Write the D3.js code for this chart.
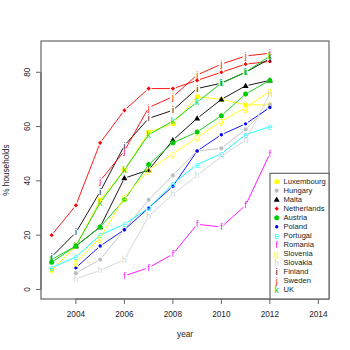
<!DOCTYPE html>
<html>
<head>
<meta charset="utf-8">
<script src="https://cdn.jsdelivr.net/npm/d3@7"></script>
<style>
  body { margin: 0; background: #fff; }
  svg { font-family: "Liberation Sans", Arial, sans-serif; }
</style>
</head>
<body>
<div id="chart"></div>
<script>
var years = [2003, 2004, 2005, 2006, 2007, 2008, 2009, 2010, 2011, 2012];

var luxembourg  = [7, 16, 33, 44, 58, 61, 71, 70, 68, 68];
var hungary     = [null, 6, 11, 22, 33, 42, 51, 52, 59, 68];
var malta       = [null, 16, 23, 41, 44, 55, 63, 70, 75, 77];
var netherlands = [20, 31, 54, 66, 74, 74, 77, 80, 83, 84];
var austria     = [10, 16, 23, 33, 46, 54, 58, 64, 72, 77];
var poland      = [null, 8, 16, 22, 30, 38, 51, 57, 61, 67];
var portugal    = [8, 12, 20, 24, 30, 39, 46, 50, 57, 60];
var romania     = [null, null, null, 5, 8, 13, 24, 23, 31, 50];
var slovenia    = [null, 10, 19, 34, 44, 50, 56, 62, 67, 73];
var slovakia    = [null, 4, 7, 11, 27, 35, 42, 49, 55, 72];
var finland     = [12, 21, 36, 53, 63, 66, 74, 76, 80, 85];
var sweden      = [null, null, 40, 51, 67, 71, 79, 83, 86, 87];
var uk          = [11, 16, 32, 44, 57, 62, 69, 76, 80, 86];

var xTicks = [2004, 2006, 2008, 2010, 2012, 2014];
var yTicks = [0, 20, 40, 60, 80];

// name, values, colour, symbol (shape name or a letter)
var series = [
  ["Luxembourg", luxembourg, "#ffff00", "square"],
  ["Hungary", hungary, "#bebebe", "dot"],
  ["Malta", malta, "#000000", "triangle"],
  ["Netherlands", netherlands, "#ff0000", "diamond"],
  ["Austria", austria, "#00cd00", "bigdot"],
  ["Poland", poland, "#0000ff", "smalldot"],
  ["Portugal", portugal, "#00ffff", "e"],
  ["Romania", romania, "#ff00ff", "f"],
  ["Slovenia", slovenia, "#ffff00", "g"],
  ["Slovakia", slovakia, "#d3d3d3", "h"],
  ["Finland", finland, "#000000", "i"],
  ["Sweden", sweden, "#ff0000", "j"],
  ["UK", uk, "#00cd00", "k"]
];

var width = 350, height = 350;
var plot = {left: 41, right: 329, top: 41, bottom: 299};

var svg = d3.select("#chart").append("svg")
  .attr("width", width)
  .attr("height", height);

// R style axis range: data range padded by 4%
var x = d3.scaleLinear()
  .domain([2003 - 0.44, 2014 + 0.44])
  .range([plot.left, plot.right]);

var y = d3.scaleLinear()
  .domain([-3.52, 91.52])
  .range([plot.bottom, plot.top]);

function drawSymbol(g, sym, cx, cy, col) {
  if (sym == "square") {
    g.append("rect").attr("x", cx - 2.2).attr("y", cy - 2.2)
      .attr("width", 4.4).attr("height", 4.4).attr("fill", col);
  } else if (sym == "dot") {
    g.append("circle").attr("cx", cx).attr("cy", cy).attr("r", 2.1).attr("fill", col);
  } else if (sym == "bigdot") {
    g.append("circle").attr("cx", cx).attr("cy", cy).attr("r", 2.5).attr("fill", col);
  } else if (sym == "smalldot") {
    g.append("circle").attr("cx", cx).attr("cy", cy).attr("r", 1.7).attr("fill", col);
  } else if (sym == "triangle") {
    g.append("path")
      .attr("d", d3.symbol().type(d3.symbolTriangle).size(16))
      .attr("transform", "translate(" + cx + "," + (cy + 0.4) + ")")
      .attr("fill", col);
  } else if (sym == "diamond") {
    g.append("path")
      .attr("d", "M0,-2.1L2.1,0L0,2.1L-2.1,0Z")
      .attr("transform", "translate(" + cx + "," + cy + ")")
      .attr("fill", col);
  } else {
    g.append("text").attr("x", cx).attr("y", cy)
      .attr("text-anchor", "middle")
      .attr("dominant-baseline", "central")
      .attr("font-size", 8.5)
      .attr("fill", col)
      .text(sym);
  }
}

// lines with small gaps round the points (type = "b")
var gap = 3;
var marks = svg.append("g");
series.forEach(function (s) {
  var pts = [];
  for (var i = 0; i < years.length; i++) {
    if (s[1][i] != null) pts.push([x(years[i]), y(s[1][i])]);
  }
  var g = marks.append("g");
  for (var k = 0; k < pts.length - 1; k++) {
    var dx = pts[k + 1][0] - pts[k][0], dy = pts[k + 1][1] - pts[k][1];
    var len = Math.sqrt(dx * dx + dy * dy);
    if (len <= 2 * gap) continue;
    var ux = dx / len, uy = dy / len;
    g.append("line")
      .attr("x1", pts[k][0] + ux * gap).attr("y1", pts[k][1] + uy * gap)
      .attr("x2", pts[k + 1][0] - ux * gap).attr("y2", pts[k + 1][1] - uy * gap)
      .attr("stroke", s[2])
      .attr("stroke-width", 0.9);
  }
  pts.forEach(function (p) { drawSymbol(g, s[3], p[0], p[1], s[2]); });
});

// box
svg.append("rect")
  .attr("x", plot.left).attr("y", plot.top)
  .attr("width", plot.right - plot.left)
  .attr("height", plot.bottom - plot.top)
  .attr("fill", "none")
  .attr("stroke", "#666")
  .attr("stroke-width", 1.2);

// x axis
var xAxis = svg.append("g").attr("class", "x axis");
xAxis.append("line")
  .attr("x1", x(xTicks[0])).attr("x2", x(xTicks[xTicks.length - 1]))
  .attr("y1", plot.bottom).attr("y2", plot.bottom)
  .attr("stroke", "#666").attr("stroke-width", 1.2);
xAxis.selectAll(".tick").data(xTicks).enter().append("line")
  .attr("x1", function (d) { return x(d); })
  .attr("x2", function (d) { return x(d); })
  .attr("y1", plot.bottom).attr("y2", plot.bottom + 5)
  .attr("stroke", "#666").attr("stroke-width", 1);
xAxis.selectAll("text").data(xTicks).enter().append("text")
  .attr("x", function (d) { return x(d); })
  .attr("y", 317)
  .attr("text-anchor", "middle")
  .attr("font-size", 8.2)
  .attr("fill", "#222")
  .text(function (d) { return d; });

// y axis
var yAxis = svg.append("g").attr("class", "y axis");
yAxis.append("line")
  .attr("x1", plot.left).attr("x2", plot.left)
  .attr("y1", y(yTicks[0])).attr("y2", y(yTicks[yTicks.length - 1]))
  .attr("stroke", "#666").attr("stroke-width", 1.2);
yAxis.selectAll(".tick").data(yTicks).enter().append("line")
  .attr("x1", plot.left - 5).attr("x2", plot.left)
  .attr("y1", function (d) { return y(d); })
  .attr("y2", function (d) { return y(d); })
  .attr("stroke", "#666").attr("stroke-width", 1);
yAxis.selectAll("text").data(yTicks).enter().append("text")
  .attr("transform", function (d) { return "translate(30," + y(d) + ") rotate(-90)"; })
  .attr("text-anchor", "middle")
  .attr("font-size", 8.2)
  .attr("fill", "#222")
  .text(function (d) { return d; });

// axis titles
svg.append("text")
  .attr("x", (plot.left + plot.right) / 2)
  .attr("y", 337)
  .attr("text-anchor", "middle")
  .attr("font-size", 8.2)
  .attr("fill", "#222")
  .text("year");

svg.append("text")
  .attr("transform", "translate(9," + ((plot.top + plot.bottom) / 2) + ") rotate(-90)")
  .attr("text-anchor", "middle")
  .attr("font-size", 8.2)
  .attr("fill", "#222")
  .text("% households");

// legend, bottom right
var legend = svg.append("g").attr("class", "legend");
legend.append("rect")
  .attr("x", 270).attr("y", 173.3)
  .attr("width", plot.right - 270).attr("height", plot.bottom - 173.3)
  .attr("fill", "#fff")
  .attr("stroke", "#666")
  .attr("stroke-width", 1.2);
series.forEach(function (s, i) {
  var ly = 181.7 + 9 * i;
  drawSymbol(legend, s[3], 276.7, ly, s[2]);
  legend.append("text")
    .attr("x", 283.5).attr("y", ly)
    .attr("dominant-baseline", "central")
    .attr("font-size", 7.6)
    .attr("fill", "#222")
    .text(s[0]);
});
</script>
</body>
</html>
